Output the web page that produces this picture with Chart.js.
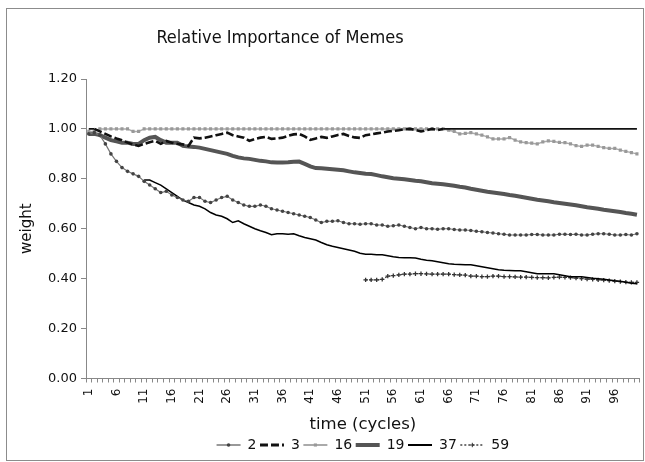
<!DOCTYPE html>
<html>
<head>
<meta charset="utf-8">
<script src="https://cdn.jsdelivr.net/npm/chart.js@4.4.1/dist/chart.umd.min.js"></script>
<style>
  html, body { margin: 0; padding: 0; background: #fff; }
  #wrap { position: relative; width: 645px; height: 462px; }
  #frame { position: absolute; left: 6px; top: 8px; width: 636px; height: 451px; border: 1px solid #8c8c8c; }
  #chart { position: absolute; left: 0; top: 0; }
</style>
</head>
<body>
<div id="wrap">
  <div id="frame"></div>
  <canvas id="chart" width="645" height="462"></canvas>
</div>
<script>
const chartTitle = 'Relative Importance of Memes';
const cycles = Array.from({ length: 100 }, (_, i) => String(i + 1));
const yTicks = [0, 0.2, 0.4, 0.6, 0.8, 1.0, 1.2];

// meme 2
const meme2 = [0.98, 0.985, 0.975, 0.94, 0.90, 0.87, 0.845, 0.83, 0.82, 0.81,
  0.79, 0.775, 0.76, 0.745, 0.75, 0.735, 0.725, 0.715, 0.71, 0.725,
  0.725, 0.71, 0.705, 0.715, 0.725, 0.73, 0.715, 0.705, 0.695, 0.69,
  0.69, 0.695, 0.69, 0.68, 0.675, 0.67, 0.665, 0.66, 0.655, 0.65,
  0.645, 0.635, 0.625, 0.63, 0.63, 0.632, 0.625, 0.62, 0.62, 0.618,
  0.62, 0.62, 0.615, 0.615, 0.61, 0.612, 0.615, 0.61, 0.605, 0.60,
  0.605, 0.60, 0.60, 0.598, 0.60, 0.60, 0.597, 0.595, 0.595, 0.593,
  0.59, 0.588, 0.585, 0.583, 0.58, 0.578, 0.575, 0.575, 0.575, 0.575,
  0.577, 0.577, 0.575, 0.575, 0.575, 0.578, 0.578, 0.577, 0.578, 0.575,
  0.575, 0.578, 0.58, 0.58, 0.578, 0.575, 0.575, 0.577, 0.575, 0.58];

// meme 3
const meme3 = [1.0, 1.0, 0.99, 0.98, 0.97, 0.962, 0.955, 0.945, 0.938, 0.932,
  0.94, 0.947, 0.952, 0.94, 0.952, 0.945, 0.94, 0.938, 0.932, 0.965,
  0.962, 0.965, 0.97, 0.975, 0.98, 0.985, 0.975, 0.97, 0.965, 0.952,
  0.96, 0.965, 0.968, 0.96, 0.962, 0.965, 0.972, 0.978, 0.98, 0.97,
  0.956, 0.962, 0.968, 0.964, 0.97, 0.976, 0.98, 0.972, 0.966, 0.964,
  0.975, 0.978, 0.982, 0.985, 0.99, 0.992, 0.995, 0.999, 1.0, 0.996,
  0.99, 0.995, 1.0, 0.995, 1.0, 1.0, 1.0, 1.0, 1.0, 1.0,
  1.0, 1.0, 1.0, 1.0, 1.0, 1.0, 1.0, 1.0, 1.0, 1.0,
  1.0, 1.0, 1.0, 1.0, 1.0, 1.0, 1.0, 1.0, 1.0, 1.0,
  1.0, 1.0, 1.0, 1.0, 1.0, 1.0, 1.0, 1.0, 1.0, 1.0];

// meme 16
const meme16 = [0.99, 0.99, 1.0, 1.0, 1.0, 1.0, 1.0, 1.0, 0.99, 0.99,
  1.0, 1.0, 1.0, 1.0, 1.0, 1.0, 1.0, 1.0, 1.0, 1.0,
  1.0, 1.0, 1.0, 1.0, 1.0, 1.0, 1.0, 1.0, 1.0, 1.0,
  1.0, 1.0, 1.0, 1.0, 1.0, 1.0, 1.0, 1.0, 1.0, 1.0,
  1.0, 1.0, 1.0, 1.0, 1.0, 1.0, 1.0, 1.0, 1.0, 1.0,
  1.0, 1.0, 1.0, 1.0, 1.0, 1.0, 1.0, 1.0, 1.0, 1.0,
  1.0, 1.0, 1.0, 1.0, 1.0, 0.995, 0.99, 0.98, 0.982, 0.985,
  0.98, 0.975, 0.968, 0.96, 0.96, 0.96, 0.965, 0.955, 0.948, 0.945,
  0.943, 0.94, 0.948, 0.952, 0.95, 0.946, 0.945, 0.94, 0.933, 0.93,
  0.935, 0.935, 0.93, 0.925, 0.922, 0.922, 0.915, 0.91, 0.905, 0.90];

// meme 19
const meme19 = [0.98, 0.98, 0.975, 0.965, 0.955, 0.95, 0.945, 0.945, 0.94, 0.94,
  0.955, 0.965, 0.968, 0.955, 0.945, 0.945, 0.945, 0.932, 0.93, 0.928,
  0.925, 0.92, 0.915, 0.91, 0.905, 0.90, 0.892, 0.886, 0.882, 0.88,
  0.876, 0.872, 0.87, 0.866, 0.865, 0.865, 0.866, 0.868, 0.869, 0.86,
  0.85, 0.843, 0.842, 0.84, 0.838, 0.836, 0.834, 0.83, 0.826, 0.823,
  0.82, 0.819, 0.815, 0.81, 0.806, 0.802, 0.80, 0.798, 0.795, 0.792,
  0.79, 0.786, 0.782, 0.78, 0.778, 0.775, 0.772, 0.768, 0.765, 0.76,
  0.756, 0.752, 0.748, 0.745, 0.742, 0.739, 0.735, 0.732, 0.728, 0.724,
  0.72, 0.716, 0.713, 0.71, 0.706, 0.703, 0.70, 0.697, 0.694, 0.69,
  0.686, 0.683, 0.68, 0.676, 0.673, 0.67, 0.667, 0.663, 0.66, 0.656];

// meme 37 appears at cycle 11
const meme37Start = 11;
const meme37 = [0.795, 0.795, 0.785, 0.775, 0.76, 0.745, 0.73, 0.715, 0.705, 0.695,
  0.69, 0.68, 0.665, 0.655, 0.65, 0.64, 0.625, 0.632, 0.62, 0.61,
  0.60, 0.592, 0.585, 0.576, 0.58, 0.58, 0.578, 0.58, 0.572, 0.565,
  0.56, 0.555, 0.545, 0.536, 0.53, 0.525, 0.52, 0.515, 0.51, 0.502,
  0.498, 0.498, 0.496, 0.496, 0.492, 0.488, 0.485, 0.484, 0.484, 0.483,
  0.478, 0.474, 0.472, 0.468, 0.464, 0.46, 0.458, 0.457, 0.456, 0.456,
  0.452, 0.448, 0.444, 0.44, 0.436, 0.434, 0.433, 0.432, 0.432, 0.428,
  0.424, 0.42, 0.42, 0.42, 0.42, 0.416, 0.412, 0.408, 0.408, 0.408,
  0.405, 0.402, 0.40, 0.398, 0.395, 0.392, 0.39, 0.386, 0.382, 0.38];

// meme 59 appears at cycle 51
const meme59Start = 51;
const meme59 = [0.395, 0.395, 0.395, 0.397, 0.41, 0.412, 0.415, 0.418, 0.418, 0.42,
  0.42, 0.419, 0.418, 0.418, 0.418, 0.418, 0.416, 0.415, 0.414, 0.41,
  0.41, 0.408, 0.408, 0.41, 0.41, 0.408, 0.408, 0.407, 0.406, 0.406,
  0.405, 0.404, 0.404, 0.403, 0.405, 0.406, 0.405, 0.404, 0.402, 0.40,
  0.398, 0.397, 0.395, 0.394, 0.392, 0.39, 0.388, 0.386, 0.385, 0.385];

const pad = (start, values) => Array(start - 1).fill(null).concat(values);

const font = '"DejaVu Sans", Verdana, sans-serif';

const titlePlugin = {
  id: 'memeTitle',
  afterDraw(chart) {
    const ctx = chart.ctx;
    ctx.save();
    ctx.font = '18px "DejaVu Sans Condensed", "DejaVu Sans", sans-serif';
    ctx.fillStyle = '#111';
    ctx.textAlign = 'center';
    ctx.textBaseline = 'middle';
    ctx.fillText(chartTitle, 280, 38);
    ctx.restore();
  }
};

// put the series markers on top of the legend lines, like the original
const legendMarkers = {
  id: 'legendMarkers',
  afterDraw(chart) {
    const legend = chart.legend;
    if (!legend || !legend.legendHitBoxes) return;
    const ctx = chart.ctx;
    legend.legendHitBoxes.forEach((box, i) => {
      const ds = chart.data.datasets[i];
      if (!ds.pointRadius) return;
      ctx.save();
      ctx.fillStyle = ds.pointBackgroundColor || ds.pointBorderColor;
      ctx.strokeStyle = ds.pointBorderColor || ds.pointBackgroundColor;
      Chart.helpers.drawPoint(ctx, {
        pointStyle: ds.pointStyle, radius: ds.pointRadius, borderWidth: ds.pointBorderWidth || 0, rotation: 0
      }, box.left + 12, box.top + box.height / 2);
      ctx.restore();
    });
  }
};

const flat = ctx => ctx.p0.parsed.y >= 1 && ctx.p1.parsed.y >= 1;

new Chart(document.getElementById('chart'), {
  type: 'line',
  data: {
    labels: cycles,
    datasets: [
      { label: '2', data: meme2, borderColor: '#777', backgroundColor: '#444', borderWidth: 1.2,
        pointStyle: 'circle', pointRadius: 1.8, pointBorderWidth: 0, pointBackgroundColor: '#444' },
      { label: '3', data: meme3, borderColor: '#111', backgroundColor: '#111', borderWidth: 2.6,
        borderDash: [8, 3], pointRadius: 0,
        segment: { borderDash: c => flat(c) ? [] : undefined, borderWidth: c => flat(c) ? 1.6 : undefined } },
      { label: '16', data: meme16, borderColor: '#aaa', backgroundColor: '#999', borderWidth: 1.5,
        pointStyle: 'rect', pointRadius: 2.2, pointBorderWidth: 0, pointBackgroundColor: '#999' },
      { label: '19', data: meme19, borderColor: '#555', backgroundColor: '#555', borderWidth: 4, pointRadius: 0 },
      { label: '37', data: pad(meme37Start, meme37), borderColor: '#000', backgroundColor: '#000', borderWidth: 1.5, pointRadius: 0 },
      { label: '59', data: pad(meme59Start, meme59), borderColor: '#444', backgroundColor: '#333', borderWidth: 1.2,
        borderDash: [2, 2], pointStyle: 'cross', pointRadius: 2.2, pointBorderWidth: 1.3, pointBorderColor: '#333' }
    ]
  },
  options: {
    responsive: false,
    animation: false,
    layout: { padding: { left: 18, right: 4, top: 79, bottom: 0 } },
    elements: { line: { tension: 0 } },
    plugins: {
      title: { display: false },
      tooltip: { enabled: false },
      legend: {
        position: 'bottom',
        fullSize: false,
        labels: {
          color: '#111',
          font: { family: font, size: 14 },
          usePointStyle: true,
          pointStyleWidth: 24,
          boxHeight: 14,
          padding: 3.5,
          generateLabels: chart => chart.data.datasets.map((ds, i) => ({
            text: ds.label,
            datasetIndex: i,
            hidden: false,
            pointStyle: 'line',
            strokeStyle: ds.borderColor,
            fillStyle: ds.borderColor,
            lineWidth: Math.min(ds.borderWidth + 0.3, 4),
            lineDash: ds.borderDash || [],
            fontColor: '#111'
          }))
        }
      }
    },
    scales: {
      x: {
        type: 'category',
        offset: true,
        afterFit: scale => { scale.height = 56; scale.paddingLeft = 0; scale.paddingRight = 0; },
        grid: { drawOnChartArea: false, drawTicks: true, tickLength: 4, color: '#888', offset: true },
        border: { color: '#888', width: 1 },
        ticks: {
          autoSkip: false, minRotation: 90, maxRotation: 90, padding: 6,
          color: '#111', font: { family: font, size: 12 },
          callback: (v, i) => (i % 5 === 0 ? cycles[i] : '')
        },
        title: { display: true, text: 'time (cycles)', color: '#111', font: { family: font, size: 16.5 }, padding: { top: 0, bottom: 0 } }
      },
      y: {
        min: 0, max: 1.2,
        afterBuildTicks: scale => { scale.ticks = yTicks.map(v => ({ value: v })); },
        afterFit: scale => { scale.width = 68; },
        grid: { drawOnChartArea: false, drawTicks: true, tickLength: 5, color: '#888' },
        border: { color: '#888', width: 1 },
        ticks: { color: '#111', font: { family: font, size: 13 }, padding: 4, callback: v => Number(v).toFixed(2) },
        title: { display: true, text: 'weight', color: '#111', font: { family: font, size: 15 }, padding: { top: 0, bottom: 4 } }
      }
    }
  },
  plugins: [titlePlugin, legendMarkers]
});
</script>
</body>
</html>
